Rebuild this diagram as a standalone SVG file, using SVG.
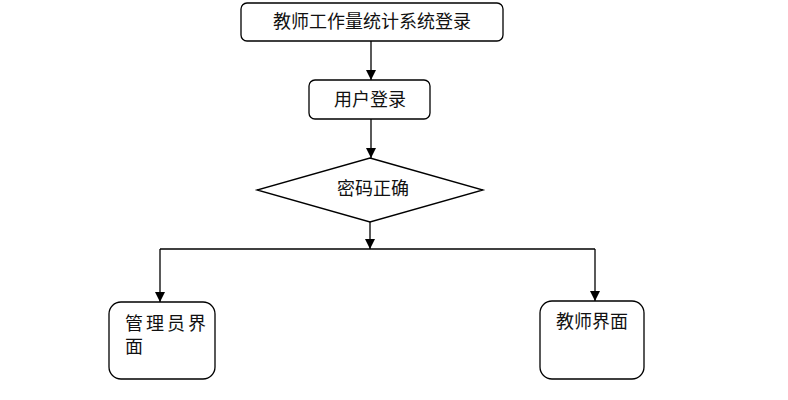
<svg xmlns="http://www.w3.org/2000/svg" width="788" height="400" viewBox="0 0 788 400">
<defs>
<marker id="arr" markerWidth="10" markerHeight="10" refX="10" refY="5" orient="auto" markerUnits="userSpaceOnUse" viewBox="0 0 10 10">
<path d="M0,0 L10,5 L0,10 Z" fill="#000"/>
</marker>
<style>
.box{fill:#fff;stroke:#000;stroke-width:1.3}
.t{font-family:"Liberation Serif","Noto Sans CJK SC",serif;font-size:18px;fill:#111}
.c{text-anchor:middle}
.ln{fill:none;stroke:#000;stroke-width:1.3}
</style>
</defs>
<rect width="788" height="400" fill="#fff"/>
<g id="connectors">
<line class="ln" x1="371" y1="41" x2="371" y2="80" marker-end="url(#arr)"/>
<line class="ln" x1="371" y1="119" x2="371" y2="158" marker-end="url(#arr)"/>
<line class="ln" x1="370" y1="222" x2="370" y2="249" marker-end="url(#arr)"/>
<line class="ln" x1="160" y1="249" x2="595" y2="249"/>
<line class="ln" x1="160" y1="249" x2="160" y2="302" marker-end="url(#arr)"/>
<line class="ln" x1="595" y1="249" x2="595" y2="301" marker-end="url(#arr)"/>
</g>
<g id="login">
<rect class="box" x="241" y="3" width="262" height="38" rx="6"/>
<text class="t c" x="372" y="28" font-size="19">教师工作量统计系统登录</text>
</g>
<g id="user">
<rect class="box" x="309" y="80" width="121" height="39" rx="6"/>
<text class="t c" x="370" y="106">用户登录</text>
</g>
<g id="check">
<polygon class="box" points="370,158 483,190 370,222 257,190"/>
<text class="t c" x="373" y="195">密码正确</text>
</g>
<g id="admin">
<rect class="box" x="109" y="302" width="106" height="77" rx="12"/>
<text class="t" x="125" y="330" letter-spacing="3">管理员界</text>
<text class="t" x="125" y="353">面</text>
</g>
<g id="teacher">
<rect class="box" x="540" y="301" width="104" height="78" rx="12"/>
<text class="t" x="556" y="328">教师界面</text>
</g>
</svg>
